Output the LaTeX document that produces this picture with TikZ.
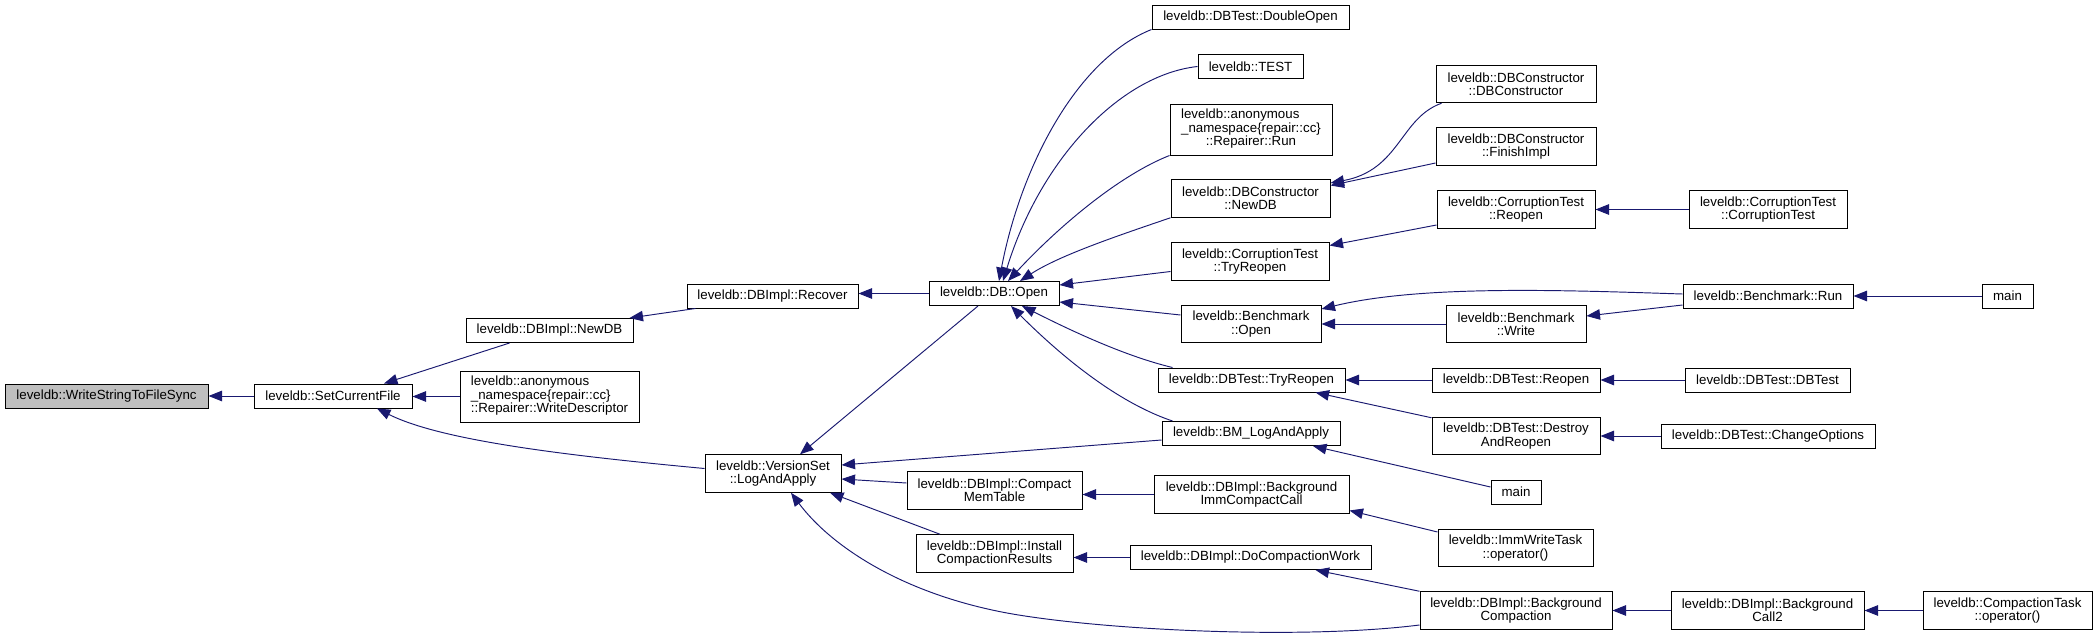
\documentclass[tikz,border=0pt]{standalone}
\usepackage{fontspec}
\usetikzlibrary{arrows.meta}
\newfontfamily\gvlblfont{Liberation Sans}
\newcommand\gvfont{\gvlblfont\fontsize{13.3}{13.3}\selectfont}
\definecolor{navyc}{RGB}{25,25,112}
\definecolor{gfill}{RGB}{191,191,191}
\tikzset{
  nd/.style={draw=black, line width=1pt, inner sep=0pt, font=\gvfont, text=black, align=center},
  one/.style={nd, minimum height=24pt, minimum width=#1},
  two/.style={nd, minimum height=37.5pt, minimum width=#1},
  three/.style={nd, minimum height=51pt, minimum width=#1},
  edge/.style={draw=navyc, line width=0.95pt, -{Triangle[length=13.5pt,width=10.5pt]}}
}
\begin{document}
\begin{tikzpicture}[x=1pt,y=-1pt]
\useasboundingbox (0,0) rectangle (2098,643);
% column 0-2
\node[one=203pt, fill=gfill] (wsfs) at (106.5,396) {leveldb::WriteStringToFileSync};
\node[one=158pt] (scf) at (333,396) {leveldb::SetCurrentFile};
\node[one=167pt] (ndb) at (549.5,330.5) {leveldb::DBImpl::NewDB};
\node[three=179pt] (wdesc) at (549.5,396.5) {\begin{tabular}{@{}l@{}}leveldb::anonymous\\\_namespace\{repair::cc\}\\\multicolumn{1}{@{}c@{}}{::Repairer::WriteDescriptor}\end{tabular}};
% column 3-4
\node[one=171pt] (recov) at (772.5,296) {leveldb::DBImpl::Recover};
\node[two=136pt] (lap) at (773,473.5) {leveldb::VersionSet\\::LogAndApply};
\node[one=130pt] (dbopen) at (994,293.5) {leveldb::DB::Open};
\node[two=175pt] (cmt) at (994.5,490.5) {leveldb::DBImpl::Compact\\MemTable};
\node[two=157pt] (icr) at (994.5,553.5) {leveldb::DBImpl::Install\\CompactionResults};
% column 5
\node[one=197pt] (dopen) at (1250.5,17) {leveldb::DBTest::DoubleOpen};
\node[one=105pt] (test) at (1250.5,66.5) {leveldb::TEST};
\node[three=162pt] (rrun) at (1251,129.5) {\begin{tabular}{@{}l@{}}leveldb::anonymous\\\_namespace\{repair::cc\}\\\multicolumn{1}{@{}c@{}}{::Repairer::Run}\end{tabular}};
\node[two=159pt] (dbcnew) at (1250.5,198.5) {leveldb::DBConstructor\\::NewDB};
\node[two=158pt] (cttry) at (1250,261.5) {leveldb::CorruptionTest\\::TryReopen};
\node[two=140pt] (bopen) at (1251,324) {leveldb::Benchmark\\::Open};
\node[one=187pt] (dttry) at (1251.5,380) {leveldb::DBTest::TryReopen};
\node[one=178pt] (bmlaa) at (1251,433.5) {leveldb::BM\_LogAndApply};
\node[two=195pt] (bicc) at (1251.5,494.5) {leveldb::DBImpl::Background\\ImmCompactCall};
\node[one=241pt] (dcw) at (1250.5,557.5) {leveldb::DBImpl::DoCompactionWork};
% column 6
\node[two=160pt] (dbcdbc) at (1516,84) {leveldb::DBConstructor\\::DBConstructor};
\node[two=160pt] (dbcfin) at (1516,146.5) {leveldb::DBConstructor\\::FinishImpl};
\node[two=158pt] (ctreo) at (1516,209.5) {leveldb::CorruptionTest\\::Reopen};
\node[two=140pt] (bwrite) at (1516,324) {leveldb::Benchmark\\::Write};
\node[one=168pt] (dtreo) at (1516,380) {leveldb::DBTest::Reopen};
\node[two=168pt] (dar) at (1516,436) {leveldb::DBTest::Destroy\\AndReopen};
\node[one=50pt] (mainb) at (1516,492) {main};
\node[two=155pt] (iwt) at (1515.5,548) {leveldb::ImmWriteTask\\::operator()};
\node[two=192pt] (bgc) at (1516,610.5) {leveldb::DBImpl::Background\\Compaction};
% column 7-8
\node[two=158pt] (ctct) at (1768,209.5) {leveldb::CorruptionTest\\::CorruptionTest};
\node[one=170pt] (brun) at (1768,296) {leveldb::Benchmark::Run};
\node[one=165pt] (dtdt) at (1767.5,380) {leveldb::DBTest::DBTest};
\node[one=214pt] (chopt) at (1768,436) {leveldb::DBTest::ChangeOptions};
\node[two=193pt] (bcall2) at (1767.5,610.5) {leveldb::DBImpl::Background\\Call2};
\node[one=51pt] (maint) at (2007.5,296) {main};
\node[two=169pt] (ctop) at (2007.5,610.5) {leveldb::CompactionTask\\::operator()};
% edges
\draw[edge] (scf.west) -- (wsfs.east);
\draw[edge] ([xshift=-40pt]ndb.south) -- ([xshift=51pt]scf.north);
\draw[edge] (wdesc.west) -- (wdesc.west -| scf.east);
\draw[edge] ([yshift=5pt]lap.west) .. controls (560,455) and (440,440) .. ([xshift=44pt]scf.south);
\draw[edge] ([xshift=-77pt]recov.south) -- ([xshift=80pt]ndb.north);
\draw[edge] (dbopen.west) -- (dbopen.west -| recov.east);
\draw[edge] (dopen.south west) .. controls (1075,60) and (1020,170) .. ([xshift=5pt]dbopen.north);
\draw[edge] (test.west) .. controls (1120,75) and (1040,160) .. ([xshift=9pt]dbopen.north);
\draw[edge] (rrun.south west) .. controls (1120,175) and (1060,225) .. ([xshift=14pt]dbopen.north);
\draw[edge] (dbcnew.south west) .. controls (1120,235) and (1060,255) .. ([xshift=26pt]dbopen.north);
\draw[edge] ([yshift=-10pt]cttry.west) -- ([yshift=8.5pt]dbopen.east);
\draw[edge] ([yshift=9pt]bopen.west) -- ([yshift=-8.5pt]dbopen.east);
\draw[edge] ([xshift=15pt]dttry.north west) .. controls (1120,355) and (1060,325) .. ([xshift=28pt]dbopen.south);
\draw[edge] ([xshift=11pt]bmlaa.north west) .. controls (1110,400) and (1050,345) .. ([xshift=17pt]dbopen.south);
\draw[edge] ([xshift=-16pt]dbopen.south) -- ([xshift=27pt]lap.north);
\draw[edge] ([yshift=-6.5pt]bmlaa.west) -- ([yshift=8.5pt]lap.east);
\draw[edge] ([yshift=7.5pt]cmt.west) -- ([yshift=-5.5pt]lap.east);
\draw[edge] ([xshift=-54.5pt]icr.north) -- ([xshift=57pt]lap.south);
\draw[edge] ([yshift=-14.5pt]bgc.west) .. controls (1300,640) and (1100,630) .. (1007,613) .. controls (900,593) and (830,545) .. ([xshift=18pt]lap.south);
\draw[edge] ([xshift=6pt]dbcdbc.south west) .. controls (1400,118) and (1400,170) .. ([yshift=15.5pt]dbcnew.east);
\draw[edge] ([yshift=-16.5pt]dbcfin.west) -- ([yshift=13pt]dbcnew.east);
\draw[edge] ([yshift=-15.5pt]ctreo.west) -- ([yshift=16pt]cttry.east);
\draw[edge] (ctct.west) -- (ctreo.east);
\draw[edge] ([yshift=2pt]brun.west) .. controls (1560,290) and (1420,285) .. ([yshift=15pt]bopen.east);
\draw[edge] (bwrite.west) -- (bopen.east);
\draw[edge] ([yshift=-9pt]brun.west) -- ([yshift=8pt]bwrite.east);
\draw[edge] (maint.west) -- (brun.east);
\draw[edge] (dtreo.west) -- (dttry.east);
\draw[edge] ([yshift=-1pt]dar.north west) -- ([xshift=64pt]dttry.south);
\draw[edge] (dtdt.west) -- (dtreo.east);
\draw[edge] (chopt.west) -- (dar.east);
\draw[edge] ([yshift=5pt]mainb.west) -- ([xshift=62pt]bmlaa.south);
\draw[edge] (bicc.west) -- (bicc.west -| cmt.east);
\draw[edge] ([yshift=16pt]iwt.west) -- ([yshift=-16pt]bicc.east);
\draw[edge] (dcw.west) -- (dcw.west -| icr.east);
\draw[edge] (bgc.north west) -- ([xshift=65pt]dcw.south);
\draw[edge] (bcall2.west) -- (bgc.east);
\draw[edge] (ctop.west) -- (bcall2.east);
\end{tikzpicture}
\end{document}
